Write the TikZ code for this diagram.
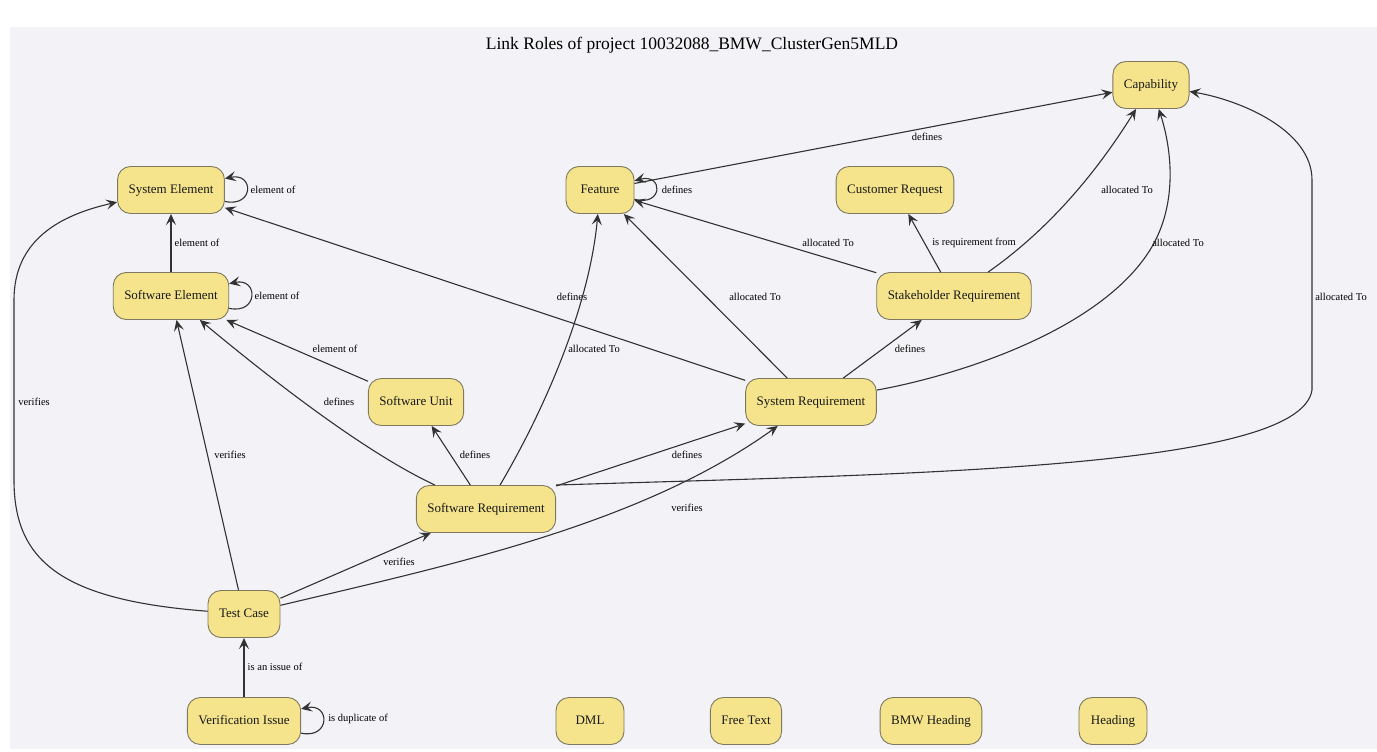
\documentclass[tikz,border=0pt]{standalone}
\usepackage{fontspec}
\setmainfont{Liberation Serif}
\usetikzlibrary{arrows.meta}

\definecolor{bgcol}{RGB}{243,242,246}
\definecolor{rolefill}{RGB}{245,228,140}
\definecolor{roleline}{RGB}{125,120,95}
\definecolor{linkcol}{RGB}{50,50,50}

\tikzset{
  role/.style={draw=roleline, fill=rolefill, line width=0.9pt, rounded corners=13pt,
    minimum height=47pt, minimum width=68pt, inner xsep=11pt,
    text height=9pt, text depth=2.5pt,
    font=\fontsize{13}{15}\selectfont, text=black!90},
  link/.style={draw=linkcol, line width=1.1pt, -{Stealth[length=11pt,width=10pt,inset=4.5pt]}},
  lbl/.style={font=\fontsize{10.5}{12}\selectfont, inner sep=1pt, text=black}
}

\begin{document}
\begin{tikzpicture}[x=1pt,y=1pt]
  \useasboundingbox (0,0) rectangle (1377,-752);
  % Background panel
  \fill[bgcol] (10,-27) rectangle (1377,-749);
  % Title
  \node[font=\fontsize{17.5}{20}\selectfont] (title) at (692,-45) {Link Roles of project 10032088\_BMW\_ClusterGen5MLD};

  % Roles
  \node[role] (cap) at (1151,-85) {Capability};
  \node[role] (syselem) at (171,-190) {System Element};
  \node[role] (feature) at (600,-190) {Feature};
  \node[role] (custreq) at (895,-190) {Customer Request};
  \node[role] (swelem) at (171,-296) {Software Element};
  \node[role] (stkreq) at (954,-296) {Stakeholder Requirement};
  \node[role] (swunit) at (416,-402) {Software Unit};
  \node[role] (sysreq) at (811,-402) {System Requirement};
  \node[role] (swreq) at (486,-509) {Software Requirement};
  \node[role] (testcase) at (244,-614) {Test Case};
  \node[role] (verissue) at (244,-721) {Verification Issue};
  \node[role] (dml) at (590,-721) {DML};
  \node[role] (freetext) at (746,-721) {Free Text};
  \node[role] (bmwhead) at (931,-721) {BMW Heading};
  \node[role] (heading) at (1113,-721) {Heading};

  % Self loops
  \draw[link] (syselem) to[out=-12,in=12,distance=30pt] (syselem) node[lbl] at (273,-190) {element of};
  \draw[link] (swelem) to[out=-12,in=12,distance=30pt] (swelem) node[lbl] at (277,-296) {element of};
  \draw[link] (feature) to[out=-15,in=15,distance=30pt] (feature) node[lbl] at (677,-190) {defines};
  \draw[link] (verissue) to[out=-12,in=12,distance=30pt] (verissue) node[lbl] at (358,-719) {is duplicate of};

  % Straight links
  \draw[link] (swelem) -- (syselem) node[lbl] at (197,-243) {element of};
  \draw[link] (feature) -- (cap) node[lbl] at (927,-137) {defines};
  \draw[link] (stkreq) -- (feature) node[lbl] at (828,-243) {allocated To};
  \draw[link] (stkreq) -- (custreq) node[lbl] at (974,-243) {is requirement from};
  \draw[link] (sysreq) -- (stkreq) node[lbl] at (910,-349) {defines};
  \draw[link] (sysreq) -- (feature) node[lbl] at (755,-297) {allocated To};
  \draw[link] (sysreq) -- (syselem) node[lbl] at (572,-297) {defines};
  \draw[link] (swunit) -- (swelem) node[lbl] at (335,-349) {element of};
  \draw[link] (swreq) -- (swunit) node[lbl] at (475,-455) {defines};
  \draw[link] (swreq) -- (sysreq) node[lbl] at (687,-455) {defines};
  \draw[link] (testcase) -- (swreq) node[lbl] at (399,-562) {verifies};
  \draw[link] (testcase) -- (swelem) node[lbl] at (230,-455) {verifies};
  \draw[link] (verissue) -- (testcase) node[lbl] at (275,-667) {is an issue of};

  % Curved links
  \draw[link] (stkreq) .. controls (1051,-228) and (1098,-170) .. (cap)
    node[lbl] at (1127,-190) {allocated To};
  \draw[link] (sysreq) .. controls (960,-375) and (1100,-330) .. (1150,-250)
    .. controls (1178,-205) and (1172,-150) .. (cap)
    node[lbl] at (1178,-243) {allocated To};
  \draw[link] (swreq.north east) .. controls (900,-474) and (1300,-470) .. (1312,-390)
    -- (1312,-180) .. controls (1312,-130) and (1240,-100) .. (cap)
    node[lbl] at (1341,-297) {allocated To};
  \draw[link] (swreq) .. controls (550,-400) and (590,-300) .. (feature)
    node[lbl] at (594,-349) {allocated To};
  \draw[link] (swreq) .. controls (360,-450) and (260,-370) .. (swelem)
    node[lbl] at (339,-402) {defines};
  \draw[link] (testcase) .. controls (450,-565) and (640,-525) .. (sysreq)
    node[lbl] at (687,-508) {verifies};
  \draw[link] (testcase) .. controls (60,-600) and (14,-560) .. (14,-480)
    -- (14,-300) .. controls (14,-240) and (60,-215) .. (syselem)
    node[lbl] at (34,-402) {verifies};
\end{tikzpicture}
\end{document}
